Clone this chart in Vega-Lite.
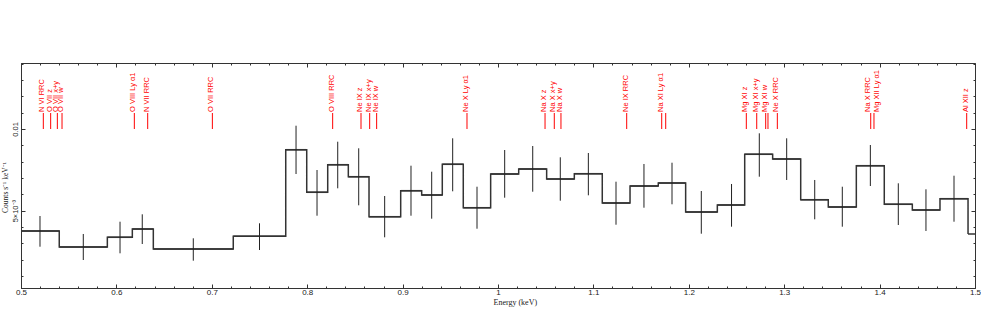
{
  "$schema": "https://vega.github.io/schema/vega-lite/v6.json",
  "width": 954,
  "height": 225,
  "autosize": {"type": "none"},
  "padding": {"left": 21, "top": 63, "right": 6, "bottom": 28},
  "background": "white",
  "config": {
    "view": {"stroke": "#333", "strokeWidth": 1},
    "axis": {"labelFont": "Liberation Sans", "titleFont": "Liberation Serif", "titleFontWeight": "normal", "labelColor": "#222", "titleColor": "#222", "domainColor": "#333", "tickColor": "#333", "grid": false}
  },
  "datasets": {
    "bins": [
      {"lo": 0.5, "hi": 0.5401, "mid": 0.5199, "v": 0.003754, "elo": 0.002792, "ehi": 0.004672},
      {"lo": 0.5401, "hi": 0.5905, "mid": 0.5653, "v": 0.002774, "elo": 0.001977, "ehi": 0.00357},
      {"lo": 0.5905, "hi": 0.6167, "mid": 0.6038, "v": 0.003368, "elo": 0.002388, "ehi": 0.004323},
      {"lo": 0.6167, "hi": 0.6387, "mid": 0.6271, "v": 0.003876, "elo": 0.002957, "ehi": 0.004776},
      {"lo": 0.6387, "hi": 0.7225, "mid": 0.6806, "v": 0.002651, "elo": 0.001935, "ehi": 0.003306},
      {"lo": 0.7225, "hi": 0.7775, "mid": 0.75, "v": 0.003429, "elo": 0.00259, "ehi": 0.004225},
      {"lo": 0.7775, "hi": 0.7995, "mid": 0.7883, "v": 0.008732, "elo": 0.007244, "ehi": 0.010202},
      {"lo": 0.7995, "hi": 0.8215, "mid": 0.8103, "v": 0.006124, "elo": 0.00469, "ehi": 0.007489},
      {"lo": 0.8215, "hi": 0.8431, "mid": 0.832, "v": 0.007814, "elo": 0.006368, "ehi": 0.009222},
      {"lo": 0.8431, "hi": 0.8648, "mid": 0.854, "v": 0.007079, "elo": 0.005327, "ehi": 0.008818},
      {"lo": 0.8648, "hi": 0.898, "mid": 0.8812, "v": 0.004629, "elo": 0.003368, "ehi": 0.005897},
      {"lo": 0.898, "hi": 0.92, "mid": 0.9088, "v": 0.006222, "elo": 0.00469, "ehi": 0.007753},
      {"lo": 0.92, "hi": 0.9416, "mid": 0.9305, "v": 0.005958, "elo": 0.004507, "ehi": 0.007385},
      {"lo": 0.9416, "hi": 0.9636, "mid": 0.9525, "v": 0.007838, "elo": 0.006185, "ehi": 0.00943},
      {"lo": 0.9636, "hi": 0.9923, "mid": 0.978, "v": 0.00518, "elo": 0.003894, "ehi": 0.006466},
      {"lo": 0.9923, "hi": 1.0217, "mid": 1.007, "v": 0.007244, "elo": 0.005793, "ehi": 0.008714},
      {"lo": 1.0217, "hi": 1.051, "mid": 1.0364, "v": 0.00755, "elo": 0.00616, "ehi": 0.008959},
      {"lo": 1.051, "hi": 1.08, "mid": 1.0653, "v": 0.006938, "elo": 0.005609, "ehi": 0.008267},
      {"lo": 1.08, "hi": 1.1093, "mid": 1.0947, "v": 0.007263, "elo": 0.00594, "ehi": 0.00853},
      {"lo": 1.1093, "hi": 1.1384, "mid": 1.1237, "v": 0.005468, "elo": 0.004139, "ehi": 0.006773},
      {"lo": 1.1384, "hi": 1.168, "mid": 1.153, "v": 0.006509, "elo": 0.00518, "ehi": 0.007857},
      {"lo": 1.168, "hi": 1.1967, "mid": 1.1824, "v": 0.006693, "elo": 0.005389, "ehi": 0.007936},
      {"lo": 1.1967, "hi": 1.2299, "mid": 1.2131, "v": 0.004917, "elo": 0.003588, "ehi": 0.006203},
      {"lo": 1.2299, "hi": 1.2586, "mid": 1.2448, "v": 0.005346, "elo": 0.004017, "ehi": 0.006632},
      {"lo": 1.2586, "hi": 1.2879, "mid": 1.2739, "v": 0.008451, "elo": 0.007079, "ehi": 0.009737},
      {"lo": 1.2879, "hi": 1.3173, "mid": 1.3026, "v": 0.008163, "elo": 0.006877, "ehi": 0.00943},
      {"lo": 1.3173, "hi": 1.3462, "mid": 1.332, "v": 0.00567, "elo": 0.00447, "ehi": 0.006877},
      {"lo": 1.3462, "hi": 1.3756, "mid": 1.3609, "v": 0.005223, "elo": 0.004017, "ehi": 0.006466},
      {"lo": 1.3756, "hi": 1.4049, "mid": 1.3903, "v": 0.007753, "elo": 0.006509, "ehi": 0.00902},
      {"lo": 1.4049, "hi": 1.4343, "mid": 1.4196, "v": 0.005389, "elo": 0.004121, "ehi": 0.006675},
      {"lo": 1.4343, "hi": 1.4633, "mid": 1.4486, "v": 0.00504, "elo": 0.003754, "ehi": 0.006307},
      {"lo": 1.4633, "hi": 1.4927, "mid": 1.478, "v": 0.005732, "elo": 0.004323, "ehi": 0.00714},
      {"lo": 1.4927, "hi": 1.522, "mid": 1.507, "v": 0.00357}
    ],
    "lines": [
      {"e": 0.5234, "label": "N VI RRC"},
      {"e": 0.5311, "label": "O VII z"},
      {"e": 0.5381, "label": "O VII x+y"},
      {"e": 0.543, "label": "O VII w"},
      {"e": 0.6188, "label": "O VIII Ly α1"},
      {"e": 0.6328, "label": "N VII RRC"},
      {"e": 0.7006, "label": "O VII RRC"},
      {"e": 0.8267, "label": "O VIII RRC"},
      {"e": 0.8564, "label": "Ne IX z"},
      {"e": 0.8655, "label": "Ne IX x+y"},
      {"e": 0.8728, "label": "Ne IX w"},
      {"e": 0.9675, "label": "Ne X Ly α1"},
      {"e": 1.0493, "label": "Na X z"},
      {"e": 1.059, "label": "Na X x+y"},
      {"e": 1.066, "label": "Na X w"},
      {"e": 1.1349, "label": "Ne IX RRC"},
      {"e": 1.1716, "label": "Na XI Ly α1"},
      {"e": 1.1758, "label": ""},
      {"e": 1.2603, "label": "Mg XI z"},
      {"e": 1.2712, "label": "Mg XI x+y"},
      {"e": 1.2806, "label": "Mg XI w"},
      {"e": 1.283, "label": ""},
      {"e": 1.2928, "label": "Ne X RRC"},
      {"e": 1.3907, "label": "Na X RRC"},
      {"e": 1.3941, "label": "Mg XII Ly α1"},
      {"e": 1.4913, "label": "Al XII z"}
    ]
  },
  "resolve": {"axis": {"x": "independent", "y": "independent"}},
  "layer": [
    {
      "data": {"name": "bins"},
      "mark": {"type": "line", "interpolate": "step-after", "color": "#333", "strokeWidth": 1.5, "clip": true},
      "encoding": {
        "x": {"field": "lo", "type": "quantitative", "scale": {"domain": [0.5, 1.5], "nice": false, "zero": false},
          "axis": {"orient": "bottom", "title": "Energy (keV)", "titleFontSize": 8, "titlePadding": 2, "titleX": 472, "titleAnchor": "start", "titleAlign": "left",
            "values": [0.5,0.52,0.54,0.56,0.58,0.6,0.62,0.64,0.66,0.68,0.7,0.72,0.74,0.76,0.78,0.8,0.82,0.84,0.86,0.88,0.9,0.92,0.94,0.96,0.98,1,1.02,1.04,1.06,1.08,1.1,1.12,1.14,1.16,1.18,1.2,1.22,1.24,1.26,1.28,1.3,1.32,1.34,1.36,1.38,1.4,1.42,1.44,1.46,1.48,1.5],
            "tickSize": {"condition": {"test": "abs(datum.value*10 - round(datum.value*10)) < 0.001", "value": -4}, "value": -2},
            "labelExpr": "abs(datum.value*10 - round(datum.value*10)) < 0.001 ? format(datum.value, '~g') : ''",
            "labelFontSize": 8, "labelPadding": 4, "domainWidth": 1, "labelFlush": false}},
        "y": {"field": "v", "type": "quantitative", "scale": {"domain": [0.000263, 0.014042], "nice": false, "zero": false},
          "axis": {"orient": "left", "title": "Counts s⁻¹ keV⁻¹", "titleFontSize": 7.5, "titleAngle": 270, "titleX": -16, "titleY": 124, "titleAlign": "center", "titleBaseline": "middle",
            "values": [0.001,0.002,0.003,0.004,0.005,0.006,0.007,0.008,0.009,0.01,0.011,0.012,0.013,0.014],
            "tickSize": {"condition": {"test": "abs(datum.value*200 - round(datum.value*200)) < 0.001", "value": -4}, "value": -2},
            "labelExpr": "abs(datum.value - 0.01) < 0.00001 ? '0.01' : (abs(datum.value - 0.005) < 0.00001 ? '5×10⁻³' : '')",
            "labelAngle": 270, "labelAlign": "center", "labelBaseline": "bottom", "labelFontSize": 7.5, "labelPadding": 6}}
      }
    },
    {
      "data": {"name": "bins"},
      "mark": {"type": "rule", "color": "#333", "strokeWidth": 1.5, "clip": true},
      "encoding": {
        "x": {"field": "lo", "type": "quantitative",
          "axis": {"orient": "top", "title": null, "labels": false, "domain": false,
            "values": [0.5,0.52,0.54,0.56,0.58,0.6,0.62,0.64,0.66,0.68,0.7,0.72,0.74,0.76,0.78,0.8,0.82,0.84,0.86,0.88,0.9,0.92,0.94,0.96,0.98,1,1.02,1.04,1.06,1.08,1.1,1.12,1.14,1.16,1.18,1.2,1.22,1.24,1.26,1.28,1.3,1.32,1.34,1.36,1.38,1.4,1.42,1.44,1.46,1.48,1.5],
            "tickSize": {"condition": {"test": "abs(datum.value*10 - round(datum.value*10)) < 0.001", "value": -4}, "value": -2}}},
        "x2": {"field": "hi"},
        "y": {"field": "v", "type": "quantitative",
          "axis": {"orient": "right", "title": null, "labels": false, "domain": false,
            "values": [0.001,0.002,0.003,0.004,0.005,0.006,0.007,0.008,0.009,0.01,0.011,0.012,0.013,0.014],
            "tickSize": {"condition": {"test": "abs(datum.value*200 - round(datum.value*200)) < 0.001", "value": -4}, "value": -2}}}
      }
    },
    {
      "data": {"name": "bins"},
      "transform": [{"filter": "isValid(datum.elo)"}],
      "mark": {"type": "rule", "color": "#222", "strokeWidth": 1, "clip": true},
      "encoding": {
        "x": {"field": "mid", "type": "quantitative", "axis": null},
        "y": {"field": "elo", "type": "quantitative", "axis": null},
        "y2": {"field": "ehi"}
      }
    },
    {
      "data": {"name": "lines"},
      "mark": {"type": "rule", "color": "#f00", "strokeWidth": 1},
      "encoding": {
        "x": {"field": "e", "type": "quantitative", "axis": null},
        "y": {"datum": 0.01, "type": "quantitative", "axis": null},
        "y2": {"datum": 0.01098}
      }
    },
    {
      "data": {"name": "lines"},
      "transform": [{"filter": "datum.label != 'Na X RRC' && datum.label != 'Mg XII Ly α1'"}],
      "mark": {"type": "text", "color": "#f00", "angle": 270, "align": "left", "baseline": "middle", "font": "Liberation Sans", "fontSize": 7.5, "dx": 1, "dy": -1},
      "encoding": {
        "x": {"field": "e", "type": "quantitative", "axis": null},
        "y": {"datum": 0.01098, "type": "quantitative", "axis": null},
        "text": {"field": "label"}
      }
    },
    {
      "data": {"name": "lines"},
      "transform": [{"filter": "datum.label == 'Na X RRC'"}],
      "mark": {"type": "text", "color": "#f00", "angle": 270, "align": "left", "baseline": "middle", "font": "Liberation Sans", "fontSize": 7.5, "dx": 1, "dy": -2.5},
      "encoding": {
        "x": {"field": "e", "type": "quantitative", "axis": null},
        "y": {"datum": 0.01098, "type": "quantitative", "axis": null},
        "text": {"field": "label"}
      }
    },
    {
      "data": {"name": "lines"},
      "transform": [{"filter": "datum.label == 'Mg XII Ly α1'"}],
      "mark": {"type": "text", "color": "#f00", "angle": 270, "align": "left", "baseline": "middle", "font": "Liberation Sans", "fontSize": 7.5, "dx": 1, "dy": 3},
      "encoding": {
        "x": {"field": "e", "type": "quantitative", "axis": null},
        "y": {"datum": 0.01098, "type": "quantitative", "axis": null},
        "text": {"field": "label"}
      }
    }
  ]
}
